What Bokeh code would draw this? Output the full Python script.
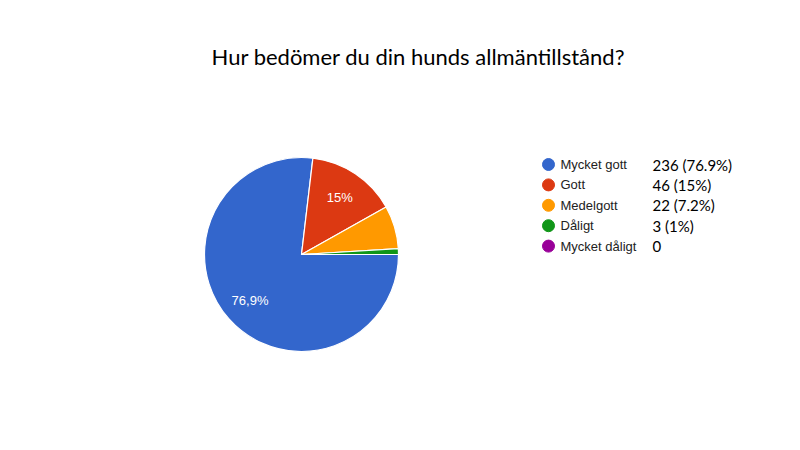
import numpy as np
from bokeh.plotting import figure
from bokeh.models import Range1d, ColumnDataSource
from bokeh.core.properties import value
from bokeh.embed import file_html
from bokeh.resources import INLINE

# ---- data ----
title_text = "Hur bedömer du din hunds allmäntillstånd?"
categories = ["Mycket gott", "Gott", "Medelgott", "Dåligt", "Mycket dåligt"]
counts = [236, 46, 22, 3, 0]
value_labels = ["236 (76.9%)", "46 (15%)", "22 (7.2%)", "3 (1%)", "0"]
slice_labels = ["76,9%", "15%", "", "", ""]
colors = ["#3366cc", "#dc3912", "#ff9900", "#109618", "#990099"]

W, H = 784, 434
p = figure(width=W, height=H, x_range=Range1d(0, W), y_range=Range1d(0, H),
           output_backend="svg", toolbar_location=None,
           x_axis_type=None, y_axis_type=None, min_border=0)
p.grid.visible = False
p.outline_line_color = None
p.background_fill_color = "white"
p.border_fill_color = "white"

# title
p.text(x=[418], y=[434 - 56], text=[title_text], text_font=value("Lato"),
       text_font_size="22px", text_color="#000000", text_align="center",
       text_baseline="alphabetic")

# pie
cx, cy, r = 301, 180, 97
frac = np.array(counts, dtype=float) / sum(counts)
cum = np.concatenate([[0], np.cumsum(frac)])
start = -2 * np.pi * cum[:-1]
end = -2 * np.pi * cum[1:]
mask = frac > 0
src = ColumnDataSource(dict(start=start[mask], end=end[mask],
                            color=[c for c, m in zip(colors, mask) if m]))
p.wedge(x=cx, y=cy, radius=r, start_angle="start", end_angle="end",
        direction="clock", fill_color="color", line_color="white",
        line_width=1.2, source=src)

mid = (start + end) / 2
lab_r = 0.71 * r
lx = cx + lab_r * np.cos(mid)
ly = cy + lab_r * np.sin(mid)
p.text(x=list(lx), y=list(ly), text=slice_labels, text_font=value("Liberation Sans"),
       text_font_size="13px", text_color="white", text_align="center",
       text_baseline="middle")

# legend
n = len(categories)
ly0, step = 270, 20.4
rows_y = [ly0 - i * step for i in range(n)]
p.scatter(x=[548] * n, y=rows_y, size=12, marker="circle",
          fill_color=colors, line_color=colors)
p.text(x=[560] * n, y=rows_y, text=categories, text_font=value("Liberation Sans"),
       text_font_size="13px", text_color="#222222", text_align="left",
       text_baseline="middle")
p.text(x=[652] * n, y=rows_y, text=value_labels, text_font=value("Lato"),
       text_font_size="15px", text_color="#000000", text_align="left",
       text_baseline="middle")

open("out.html", "w").write(file_html(p, INLINE))
